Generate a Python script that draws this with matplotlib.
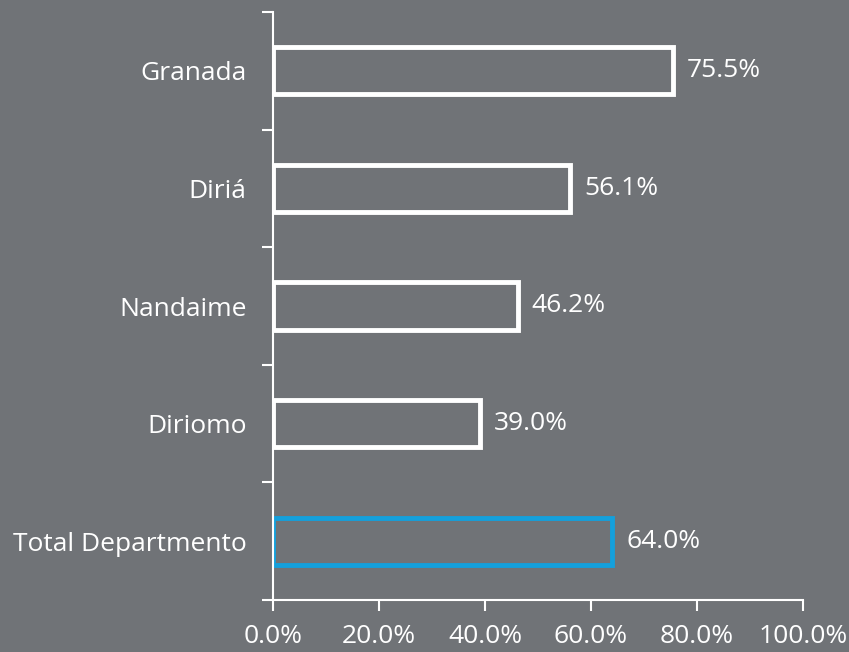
import matplotlib.pyplot as plt

# data (top to bottom in the picture)
categories = ["Granada", "Diriá", "Nandaime", "Diriomo", "Total Departmento"]
values = [75.5, 56.1, 46.2, 39.0, 64.0]
edge_colors = ["white", "white", "white", "white", "#14a0dc"]
xticks = [0, 20, 40, 60, 80, 100]

bg = "#707377"
plt.rcParams["font.family"] = ["Open Sans", "DejaVu Sans"]

dpi = 100
fig = plt.figure(figsize=(849/dpi, 652/dpi), dpi=dpi, facecolor=bg)
ax = fig.add_axes([273/849, 52/652, 530/849, 588/652], facecolor=bg)

n = len(categories)
ypos = list(range(n - 1, -1, -1))
ax.barh(ypos, values, height=0.4, facecolor="none",
        edgecolor=edge_colors, linewidth=3.5)

for y, v in zip(ypos, values):
    ax.annotate(f"{v:.1f}%", (v, y), xytext=(10, 0), textcoords="offset points",
                va="center", ha="left", color="white", fontsize=19)

ax.set_xlim(0, 100)
ax.set_ylim(-0.5, n - 0.5)
ax.set_xticks(xticks)
ax.set_xticklabels([f"{t:.1f}%" for t in xticks])
ax.set_yticks(ypos)
ax.set_yticklabels(categories)
ax.set_yticks([i - 0.5 for i in range(n + 1)], minor=True)

for s in ["top", "right"]:
    ax.spines[s].set_visible(False)
for s in ["left", "bottom"]:
    ax.spines[s].set_color("white")
    ax.spines[s].set_linewidth(1.5)

ax.tick_params(axis="x", colors="white", labelsize=19, length=8, width=1.5, pad=9)
ax.tick_params(axis="y", which="major", length=0, labelsize=19, labelcolor="white", pad=19)
ax.tick_params(axis="y", which="minor", length=8, width=1.5, color="white")

fig.savefig("out.png", dpi=dpi, facecolor=bg)
